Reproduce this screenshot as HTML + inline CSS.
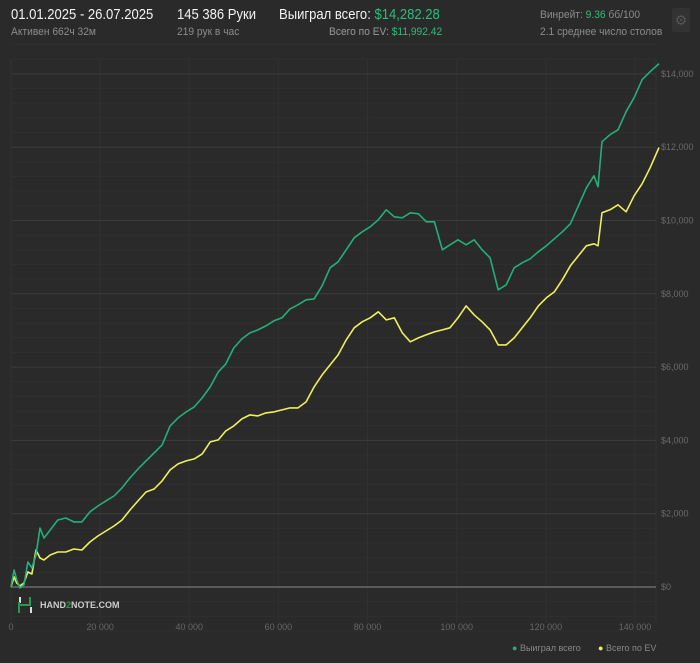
<!DOCTYPE html>
<html><head><meta charset="utf-8">
<style>
body{margin:0;background:#2a2a2a;width:700px;height:663px;overflow:hidden;font-family:"Liberation Sans",sans-serif;}
.t{position:absolute;white-space:nowrap;transform-origin:left top}
.big{font-size:15px;color:#f2f2f2;transform:scaleX(0.87)}
.sm{font-size:11px;color:#8c8c8c;transform:scaleX(0.93)}
.g{color:#2bbd7e}
</style></head><body>
<div class="t big" style="left:11px;top:6px">01.01.2025 - 26.07.2025</div>
<div class="t sm" style="left:11px;top:26px">Активен 662ч 32м</div>
<div class="t big" style="left:177px;top:6px">145 386 Руки</div>
<div class="t sm" style="left:177px;top:26px">219 рук в час</div>
<div class="t big" style="left:279px;top:6px">Выиграл всего: <span class="g">$14,282.28</span></div>
<div class="t sm" style="left:329px;top:26px;color:#999">Всего по EV: <span class="g">$11,992.42</span></div>
<div class="t sm" style="left:540px;top:9px">Винрейт: <span class="g">9.36</span> бб/100</div>
<div class="t sm" style="left:540px;top:26px">2.1 среднее число столов</div>
<div class="t" style="left:672px;top:8px;width:18px;height:24px;background:#333;border-radius:2px;color:#555;font-size:14px;text-align:center;line-height:24px">⚙</div>
<svg id="chart" width="700" height="663" style="position:absolute;left:0;top:0"></svg>
<script>
const hands=[0,0.7,1.3,2.0,2.9,3.8,4.7,5.6,6.5,7.4,8.8,10.5,12.3,14.1,15.9,17.7,19.5,21.3,23.1,24.9,26.7,28.5,30.3,32.1,33.9,35.7,37.5,39.3,41.1,42.9,44.7,46.5,48.2,50.0,51.8,53.6,55.4,57.2,59.0,60.8,62.6,64.4,66.2,68.0,69.8,71.6,73.4,75.2,77.0,78.8,80.6,82.4,84.2,86.0,87.8,89.6,91.4,93.2,95.0,96.8,98.5,100.3,102.1,103.9,105.7,107.5,109.3,111.1,112.9,114.7,116.5,118.3,120.1,121.9,123.7,125.5,127.3,129.1,130.8,131.7,132.6,134.4,136.2,138.0,139.8,141.6,143.4,145.4];
const won=[0,464,191,-27,55,683,519,874,1611,1338,1556,1829,1884,1775,1775,2048,2211,2348,2484,2703,2976,3221,3440,3658,3877,4395,4614,4778,4914,5160,5460,5870,6088,6525,6770,6934,7016,7125,7262,7344,7589,7699,7835,7862,8217,8709,8873,9200,9528,9692,9828,10019,10292,10101,10074,10210,10183,9965,9965,9200,9337,9473,9337,9473,9200,8982,8108,8245,8709,8845,8954,9146,9309,9500,9692,9910,10401,10893,11220,10920,12149,12340,12476,12968,13350,13841,14060,14282];
const ev=[0,273,109,27,109,410,355,1010,792,737,874,956,956,1037,1010,1228,1392,1529,1665,1829,2102,2348,2593,2675,2894,3194,3358,3440,3494,3631,3958,4013,4258,4395,4586,4696,4668,4750,4778,4832,4887,4887,5051,5460,5788,6061,6334,6743,7071,7235,7344,7508,7289,7344,6934,6689,6798,6880,6961,7016,7071,7344,7671,7426,7235,7016,6606,6606,6798,7071,7344,7671,7889,8053,8381,8763,9036,9309,9364,9309,10210,10292,10428,10237,10674,11002,11439,11992];
const xTicks=[0,20,40,60,80,100,120,140];
const xTickLabels=["0","20 000","40 000","60 000","80 000","100 000","120 000","140 000"];
const yTicks=[0,2000,4000,6000,8000,10000,12000,14000];
const yTickLabels=["$0","$2,000","$4,000","$6,000","$8,000","$10,000","$12,000","$14,000"];
const NS="http://www.w3.org/2000/svg";
const svg=document.getElementById('chart');
const X=h=>11+h*4.457; // h in thousands of hands
const Y=v=>587-v*0.03665;
function mk(tag,attrs,parent){const e=document.createElementNS(NS,tag);for(const k in attrs)e.setAttribute(k,attrs[k]);(parent||svg).appendChild(e);return e;}
for(let v=-1200;v<=14800;v+=400){
 if(v%2000===0)continue;
 const l=mk('line',{x1:11,x2:656,y1:Y(v),y2:Y(v),stroke:'#2f2f2f',"stroke-width":1});
 
 
}
xTicks.forEach((t,i)=>{
 const l=mk('line',{x1:X(t),x2:X(t),y1:60,y2:623,stroke:'#313131',"stroke-width":1});
 
 
 const tx=mk('text',{x:X(t),y:630,fill:'#666',"font-size":9,"text-anchor":"middle"});
 tx.textContent=xTickLabels[i];
 
 
});
mk('line',{x1:656,x2:656,y1:60,y2:623,stroke:'#313131'});
yTicks.forEach((t,i)=>{
 const l=mk('line',{x1:11,x2:656,y1:Y(t),y2:Y(t),stroke:t===0?'#5a5a5a':'#3c3c3c',"stroke-width":t===0?2:1});
 
 
 const tx=mk('text',{x:661,y:Y(t)+3,fill:'#6a6a6a',"font-size":9});
 tx.textContent=yTickLabels[i];
 
 
});
function series(vals,color,name){
 const n=Math.min(hands.length,vals.length);
 let d='';
 for(let i=0;i<n;i++)d+=(i?'L':'M')+X(hands[i]).toFixed(1)+','+Y(vals[i]).toFixed(1);
 const p=mk('path',{d:d,fill:'none',stroke:color,"stroke-width":1.6,"stroke-linejoin":"round"});
 
 
}
series(ev,'#eef05a','ev-line');
series(won,'#22b07a','won-line');
</script>
<div class="t" style="left:17px;top:597px;width:14px;height:16px">
 <div style="position:absolute;left:2px;top:0;width:2px;height:6px;background:#ddd"></div>
 <div style="position:absolute;left:1px;top:5px;width:2px;height:11px;background:#2a9a4a"></div>
 <div style="position:absolute;left:1px;top:7px;width:12px;height:2px;background:#2a9a4a"></div>
 <div style="position:absolute;left:12px;top:0;width:2px;height:9px;background:#2a9a4a"></div>
 <div style="position:absolute;left:13px;top:10px;width:2px;height:6px;background:#ddd"></div>
</div>
<div class="t" style="left:40px;top:600px;font-size:9px;font-weight:bold;color:#ccc">HAND<span style="color:#2a9a4a">2</span>NOTE.COM</div>
<div class="t" style="left:512px;top:643px;font-size:9px;color:#888"><span style="color:#22b07a">●</span> Выиграл всего</div>
<div class="t" style="left:598px;top:643px;font-size:9px;color:#888"><span style="color:#eef05a">●</span> Всего по EV</div>
</body></html>
